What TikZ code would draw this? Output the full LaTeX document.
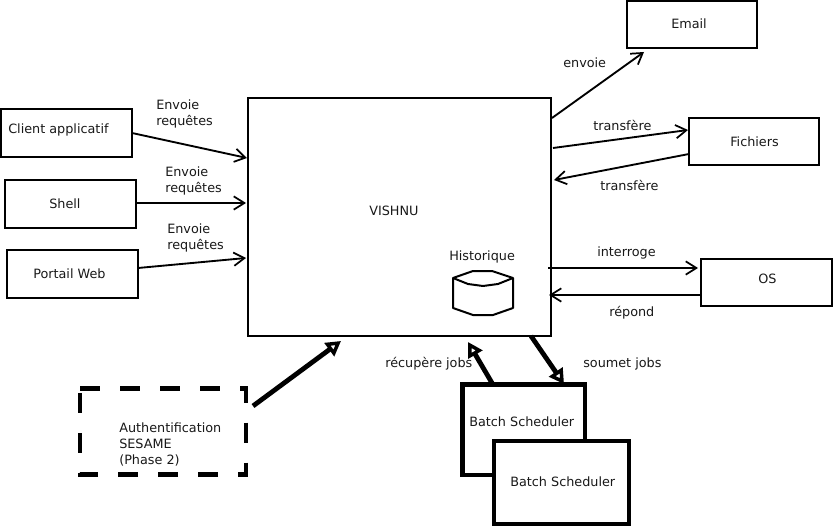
\documentclass[tikz,border=0pt]{standalone}
\usepackage{fontspec}
\setmainfont{DejaVu Sans}
\usetikzlibrary{arrows.meta}
\tikzset{
  x=0.75pt,y=-0.75pt,
  boxnode/.style={draw=black,line width=1.6pt,fill=white,inner sep=0pt,outer sep=0pt,anchor=north west},
  thickbox/.style={boxnode,line width=3.4pt},
  lbl/.style={font=\fontsize{9.6pt}{11.7pt}\selectfont,text=black!90,inner sep=0pt,anchor=west,align=left,yshift=-0.75pt},
  plain arrow/.style={draw=black,line width=1.4pt,-{Straight Barb[length=8pt,width=10pt,line width=1.3pt]}},
  heavy arrow/.style={draw=black,line width=3.6pt,-{Triangle[open,length=11pt,width=12pt,line width=2.6pt]}},
}
\newcommand{\bx}[7][boxnode]{\node[#1,minimum width=#5*0.75pt-#4*0.75pt,minimum height=#7*0.75pt-#6*0.75pt] (#2) at (#4,#6) {#3};}
\begin{document}
\begin{tikzpicture}
\useasboundingbox (0,0) rectangle (834,527);
\fill[white] (0,0) rectangle (834,527);
% boxes
\bx{vishnu}{}{248}{551}{98}{336}
\bx{client}{}{1}{132}{109}{157}
\bx{shell}{}{5}{136}{180}{228}
\bx{portail}{}{7}{138}{250}{298}
\bx{email}{}{627}{757}{1}{48}
\bx{fichiers}{}{689}{819}{118}{165}
\bx{os}{}{701}{832}{259}{306}
\bx[thickbox]{batchA}{}{462.5}{585}{384.5}{475}
\bx[thickbox]{batchB}{}{494}{629}{441}{524}
\node[inner sep=0pt,outer sep=0pt,anchor=north west,minimum width=124.5pt,minimum height=64.5pt] (auth) at (80,388.5) {};
\draw[line width=3.5pt,dash pattern=on 15pt off 15pt] (auth.north west) -- (auth.north east) -- (auth.south east) -- (auth.south west) -- cycle;
% box texts
\node[lbl] (tclient) at (8,129) {Client applicatif};
\node[lbl] (tshell) at (49,203) {Shell};
\node[lbl] (tportail) at (33,273) {Portail Web};
\node[lbl] (tvishnu) at (369,210) {VISHNU};
\node[lbl] (thisto) at (449,256) {Historique};
\node[lbl] (temail) at (671,23) {Email};
\node[lbl] (tfichiers) at (730,141) {Fichiers};
\node[lbl] (tos) at (758,278) {OS};
\node[lbl] (tbatchA) at (469,421) {Batch Scheduler};
\node[lbl] (tbatchB) at (510,481) {Batch Scheduler};
\node[lbl,anchor=north west,font=\fontsize{9.6pt}{12pt}\selectfont] (tauth) at (119,422) {Authentification\\SESAME\\(Phase 2)};
% connector labels
\node[lbl,anchor=north west] (l1) at (156,98.5) {Envoie\\requêtes};
\node[lbl,anchor=north west] (l2) at (165,165.5) {Envoie\\requêtes};
\node[lbl,anchor=north west] (l3) at (167,222.5) {Envoie\\requêtes};
\node[lbl] (l4) at (563,62) {envoie};
\node[lbl] (l5) at (593,124.5) {transfère};
\node[lbl] (l6) at (600,184.5) {transfère};
\node[lbl] (l7) at (597,251.5) {interroge};
\node[lbl] (l8) at (609,312) {répond};
\node[lbl] (l9) at (385,362.5) {récupère jobs};
\node[lbl] (l10) at (583,362.5) {soumet jobs};
% cylinder
\draw[line width=1.5pt,line join=round,fill=white] (453,278) -- (473,271) -- (492,271) -- (513,278) -- (513,308) -- (493,315) -- (473,315) -- (453,308) -- cycle;
\draw[line width=1.5pt,line join=round] (453,278) -- (468,284) -- (483,286) -- (498,284) -- (513,278);
% connection points
\coordinate (vc) at (247,158);
\coordinate (vs) at (246,203);
\coordinate (vp) at (246,258);
\coordinate (ve) at (552,118);
\coordinate (vfo) at (553,148);
\coordinate (vfi) at (554,180);
\coordinate (voo) at (548,268);
\coordinate (voi) at (549,295);
\coordinate (vbo) at (531,336);
\coordinate (vbi) at (468,342);
\coordinate (va) at (341,341);
\coordinate (ee) at (644,52);
\coordinate (fi) at (688,130);
\coordinate (fo) at (689,154);
\coordinate (oi) at (698,268);
\coordinate (oo) at (701,295);
\coordinate (bi) at (564,384);
\coordinate (bo) at (492,383);
\coordinate (ao) at (253,406);
\coordinate (po) at (138,268);
\coordinate (co) at (132,133);
\coordinate (so) at (136,203);
% connectors
\draw[plain arrow] (co) -- (vc);
\draw[plain arrow] (so) -- (vs);
\draw[plain arrow] (po) -- (vp);
\draw[plain arrow] (ve) -- (ee);
\draw[plain arrow] (vfo) -- (fi);
\draw[plain arrow] (fo) -- (vfi);
\draw[plain arrow] (voo) -- (oi);
\draw[plain arrow] (oo) -- (voi);
\draw[heavy arrow] (vbo) -- (bi);
\draw[heavy arrow] (bo) -- (vbi);
\draw[heavy arrow] (ao) -- (va);
\end{tikzpicture}
\end{document}
